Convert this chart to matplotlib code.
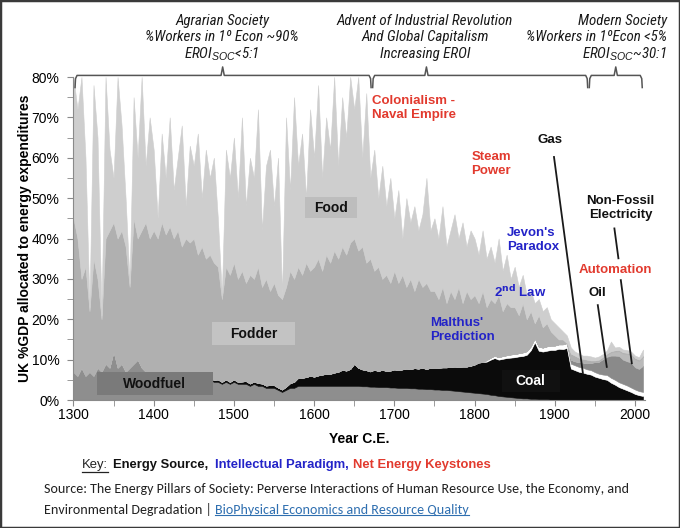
import numpy as np
import matplotlib.pyplot as plt
from matplotlib.patches import Rectangle
from matplotlib.lines import Line2D

plt.rcParams['font.family'] = ['Liberation Sans', 'DejaVu Sans']

NARROW = ['Roboto Condensed', 'Liberation Sans']
SRC_FONT = ['Carlito', 'Lato', 'Liberation Sans']
plt.rcParams['mathtext.fontset'] = 'custom'
plt.rcParams['mathtext.it'] = 'Liberation Sans:italic'
plt.rcParams['mathtext.rm'] = 'Liberation Sans'
RED = '#e23a2e'
BLUE = '#2323c8'

# 1 Data (5-year steps, % of UK GDP)
years = np.arange(1300, 2011, 5)

woodfuel = [7, 6, 8, 6, 7, 6, 8, 7, 9, 8,
            12, 8, 9, 7, 8, 9, 10, 8, 7, 7,
            6, 6.5, 6, 6, 5.5, 5.5, 5.5, 5, 5, 5,
            5, 5, 6, 6.5, 5, 4.5, 4.5, 4, 4.5, 4,
            4.5, 4, 4, 4, 3.5, 4, 3.5, 3.5, 3, 3,
            3, 2.5, 2, 2.5, 3, 3, 3.5, 3.5, 3.5, 3.5,
            3.5, 3.5, 3.5, 3.5, 3.5, 3.5, 3.5, 3.5, 3.5, 3.5,
            3.5, 3.5, 3.4, 3.4, 3.3, 3.3, 3.2, 3.2, 3.2, 3.1,
            3.1, 3.0, 3.0, 3.0, 2.9, 2.9, 2.8, 2.8, 2.7, 2.7,
            2.6, 2.6, 2.5, 2.5, 2.4, 2.3, 2.2, 2.1, 2.0, 1.9,
            1.8, 1.7, 1.6, 1.5, 1.3, 1.2, 1.0, 0.9, 0.8, 0.7,
            0.6, 0.5, 0.4, 0.4, 0.3, 0.3, 0.2, 0.2, 0.2, 0.1,
            0.1, 0.1, 0.1, 0.1, 0, 0, 0, 0, 0, 0,
            0, 0, 0, 0, 0, 0, 0, 0, 0, 0,
            0, 0, 0]

coal = [0] * 30 + [
        0, 0, 0.3, 0.5, 0.5, 0.5, 0.6, 0.5, 0.6, 0.5,
        0.6, 0.5, 0.6, 0.7, 0.6, 0.6, 0.7, 0.6, 0.6, 0.7,
        0.7, 0.6, 0.6, 0.8, 1.2, 1.5, 2.0, 2.0, 2.2, 2.5,
        2.3, 2.6, 2.8, 3.0, 3.0, 3.3, 3.5, 4.0, 3.8, 4.2,
        5.5, 4.5, 4.2, 4.0, 3.8, 4.2, 4.0, 4.3, 4.0, 4.2,
        4.5, 4.4, 4.6, 4.8, 4.8, 5.0, 5.0, 5.2, 5.0, 5.3,
        5.3, 5.4, 5.6, 5.6, 5.8, 6.0, 6.0, 6.2, 6.3, 6.6,
        7.0, 7.6, 7.8, 8.0, 8.7, 9.2, 9.0, 9.3, 9.6, 9.8,
        10.0, 10.3, 10.5, 10.8, 12.0, 14.0, 12.0, 11.8, 12.0, 12.3,
        12.3, 12.6, 12.5, 12.8, 7.8, 7.4, 7.0, 6.8, 6.5, 6.3,
        5.8, 5.5, 5.2, 5.0, 4.3, 3.8, 3.2, 2.8, 2.4, 2.0,
        1.5, 1.2, 1.0]

gas = [0] * 100 + [
       0, 0, 0, 0.4, 0.5, 0.6, 0.6, 0.7, 0.7, 0.8,
       0.8, 0.8, 0.9, 0.9, 1.0, 1.0, 1.0, 1.0, 1.1, 1.1,
       1.1, 1.1, 1.2, 1.2, 1.2, 1.2, 1.2, 1.2, 1.1, 1.1,
       1.1, 1.0, 1.1, 1.2, 1.2, 1.2, 1.2, 1.2, 1.2, 1.1,
       1.1, 1.0, 1.0]

oil = [0] * 120 + [
       0, 0, 0, 0, 1.0, 1.0, 1.2, 1.3, 1.5, 1.8,
       2.5, 3.0, 3.8, 4.5, 5.5, 6.0, 6.5, 6.0, 6.0, 6.2,
       5.5, 5.5, 6.5]

electricity = [0] * 130 + [
       0, 0, 0.3, 0.5, 0.8, 1.0, 1.2, 1.5, 1.8, 2.0,
       2.0, 2.0, 2.2]

# upper edges of the fodder and food areas
fodder_top = [45, 40, 30, 33, 22, 35, 30, 20, 40, 42,
              44, 40, 42, 38, 28, 45, 40, 42, 44, 40,
              42, 40, 44, 41, 43, 40, 42, 38, 40, 39,
              40, 36, 38, 35, 36, 34, 33, 25, 33, 31,
              34, 30, 32, 29, 31, 30, 33, 28, 30, 27,
              29, 26, 25, 28, 32, 30, 33, 31, 34, 32,
              33, 35, 32, 36, 34, 37, 35, 38, 36, 39,
              40, 37, 38, 34, 35, 32, 33, 30, 31, 29,
              32, 29, 31, 28, 30, 27, 30, 28, 29, 27,
              27, 25, 28, 24, 27, 25, 28, 24, 27, 25,
              26, 24, 27, 23, 25, 24, 26, 22, 24, 23,
              23, 21, 24, 20, 22, 19, 21, 18, 19, 17,
              16, 15, 15, 14, 11.5, 11, 10.5, 10.2, 10, 9.8,
              9.8, 10, 10.7, 11.5, 12.1, 12.3, 12.4, 11.8, 11.7, 11.5,
              10.4, 10.0, 11.0]

food_top = [80, 72, 80, 60, 23, 78, 65, 21, 80, 62,
            55, 80, 68, 50, 29, 75, 60, 80, 58, 70,
            62, 45, 66, 55, 70, 52, 60, 68, 48, 63,
            58, 66, 50, 62, 55, 60, 45, 26, 62, 55,
            65, 50, 70, 48, 60, 55, 72, 42, 58, 62,
            48, 60, 26, 70, 52, 75, 58, 66, 50, 72,
            60, 78, 55, 70, 62, 80, 58, 75, 65, 80,
            72, 80, 60, 76, 55, 62, 50, 58, 48, 55,
            45, 52, 40, 50, 44, 48, 42, 46, 55, 42,
            45, 40, 48, 38, 42, 46, 40, 44, 38, 42,
            40, 36, 42, 35, 38, 34, 40, 32, 36, 30,
            33, 28, 31, 26, 27, 24, 25, 22, 23, 20,
            19, 18, 17, 16, 13, 12, 11.5, 11, 11, 10.8,
            10.5, 10.8, 11.4, 12.3, 14.5, 13.0, 13.2, 12.5, 12.4, 12.0,
            11.0, 10.6, 12.5]

lower = (np.array(woodfuel) + np.array(coal) + np.array(gas)
         + np.array(oil) + np.array(electricity))
fodder = np.clip(np.minimum(fodder_top, food_top) - lower, 0, None)
food = np.clip(np.array(food_top) - lower - fodder, 0, None)

layer_colors = ['#8e8e8e', '#0b0b0b', '#ffffff', '#8a8a8a', '#bababa',
                '#b0b0b0', '#cecece']

# 2 Figure
fig = plt.figure(figsize=(6.8, 5.28), dpi=100)
ax = fig.add_axes([0.108, 0.2424, 0.840, 0.6117])
renderer = fig.canvas.get_renderer()

polys = ax.stackplot(years, woodfuel, coal, gas, oil, electricity, fodder, food,
                     colors=layer_colors)
for p, c in zip(polys, layer_colors):
    p.set_edgecolor(c)
    p.set_linewidth(0.4)

ax.set_xlim(1300, 2012)
ax.set_ylim(0, 80)
ax.set_yticks(np.arange(0, 81, 10))
ax.set_yticklabels([f'{v}%' for v in range(0, 81, 10)])
ax.set_yticks(np.arange(5, 80, 10), minor=True)
ax.set_xticks(np.arange(1300, 2001, 100))
ax.set_xticks(np.arange(1350, 2001, 100), minor=True)
for s in ['top', 'right']:
    ax.spines[s].set_visible(False)
for s in ['left', 'bottom']:
    ax.spines[s].set_color('#8a8a8a')
ax.tick_params(axis='both', which='both', color='#8a8a8a', length=4, labelsize=10)
ax.tick_params(axis='y', pad=6)
ax.tick_params(axis='x', pad=2)
ax.set_xlabel('Year C.E.', fontsize=10, fontweight='bold', labelpad=7)
ax.set_ylabel('UK %GDP allocated to energy expenditures', fontsize=10,
              fontweight='bold')
ax.yaxis.set_label_coords(-0.073, 0.5)

# label boxes
boxes = [('Woodfuel', 1329, 1474, 1.2, 6.9, '#7a7a7a', '#111111'),
         ('Fodder', 1473, 1576, 13.6, 19.3, '#c3c3c3', '#111111'),
         ('Food', 1589, 1654, 45.0, 50.2, '#bdbdbd', '#111111'),
         ('Coal', 1834, 1906, 2.0, 7.4, '#111111', '#ffffff')]
for name, x0, x1, y0, y1, fc, tc in boxes:
    ax.add_patch(Rectangle((x0, y0), x1 - x0, y1 - y0, fc=fc, ec='none', zorder=3))
    ax.text((x0 + x1) / 2, (y0 + y1) / 2, name, ha='center', va='center',
            fontsize=10, fontweight='bold', color=tc, zorder=4)

# annotations
notes = [('Colonialism -\nNaval Empire', 1672, 75.5, RED),
         ('Steam\nPower', 1796, 61.8, RED),
         ("Jevon's\nParadox", 1840, 42.8, BLUE),
         ('Malthus\'\nPrediction', 1745, 20.6, BLUE)]
for txt, x, y, c in notes:
    ax.text(x, y, txt, color=c, fontsize=9.5, fontweight='bold', ha='left', va='top',
            linespacing=1.25, zorder=5)
ax.text(1824, 26.8, '2$^{\\mathbf{nd}}$ Law', color=BLUE, fontsize=9.5,
        fontweight='bold', va='center', zorder=5)
ax.text(1894, 64.4, 'Gas', color='#111111', fontsize=9.5, fontweight='bold',
        ha='center', va='center', zorder=5)
ax.text(1982, 47.6, 'Non-Fossil\nElectricity', color='#111111', fontsize=9.5,
        fontweight='bold', ha='center', va='center', linespacing=1.25, zorder=5)
ax.text(1975.5, 32.2, 'Automation', color=RED, fontsize=9.5, fontweight='bold',
        ha='center', va='center', zorder=5)
ax.text(1953.5, 26.4, 'Oil', color='#111111', fontsize=9.5, fontweight='bold',
        ha='center', va='center', zorder=5)

leaders = [((1899, 60.2), (1935, 6.7)),
           ((1974.3, 42.5), (1979.3, 35.1)),
           ((1982.3, 29.7), (1996, 9.1)),
           ((1953.6, 23.5), (1964.8, 8.2))]
for (xa, ya), (xb, yb) in leaders:
    ax.plot([xa, xb], [ya, yb], color='#1a1a1a', lw=1.3, zorder=5)

# brackets over the eras
def bracket(x0, xm, x1):
    xs = [x0, x0 + 0.6, x0 + 2.5, xm - 2, xm, xm + 2, x1 - 2.5, x1 - 0.6, x1]
    ys = [77.4, 79.6, 80.4, 80.4, 82.5, 80.4, 80.4, 79.6, 77.4]
    ax.add_line(Line2D(xs, ys, color='#555555', lw=1.1, clip_on=False))

bracket(1302, 1486, 1671)
bracket(1673, 1740, 1941)
bracket(1943, 1976, 2009)

# era captions, sized so "Advent of Industrial Revolution" is ~176 px wide
ital = dict(family=NARROW, style='italic', fontsize=10, color='#1a1a1a', va='center')
probe = fig.text(0, 0, 'Advent of Industrial Revolution', **ital)
ital['fontsize'] = 10 * 176 / probe.get_window_extent(renderer=renderer).width
probe.remove()
captions = [(222, 'center', ['Agrarian Society', '%Workers in 1º Econ ~90%',
                             'EROI$_{SOC}$<5:1']),
            (425, 'center', ['Advent of Industrial Revolution', 'And Global Capitalism',
                             'Increasing EROI']),
            (667, 'right', ['Modern Society', '%Workers in 1ºEcon <5%',
                            'EROI$_{SOC}$~30:1'])]
for cx, ha, lines in captions:
    for ly, line in zip([21, 37, 54], lines):
        fig.text(cx / 680, 1 - ly / 528, line, ha=ha, **ital)

# key line, scaled to end near x = 492 px
parts = [('Key:', '#222222', 'normal', 5),
         ('Energy Source,', '#111111', 'bold', 8),
         ('Intellectual Paradigm,', BLUE, 'bold', 4),
         ('Net Energy Keystones', RED, 'bold', 0)]
key_texts = [fig.text(0, 1 - 465 / 528, txt, color=c, fontweight=w, fontsize=10,
                      va='center', ha='left') for txt, c, w, g in parts]
total = sum(t.get_window_extent(renderer=renderer).width for t in key_texts)
total += sum(g for _, _, _, g in parts)
scale = (492 - 82) / total
x = 82
for t, (txt, c, w, gap) in zip(key_texts, parts):
    t.set_fontsize(10 * scale)
    t.set_x(x / 680)
    bb = t.get_window_extent(renderer=renderer)
    x = bb.x1 + gap * scale
bb = key_texts[0].get_window_extent(renderer=renderer)
fig.add_artist(Line2D([bb.x0 / 680, bb.x1 / 680], [(bb.y0 - 1) / 528] * 2,
                      color='#222222', lw=0.9))

# source, sized so the first line is ~584 px wide
src = dict(family=SRC_FONT, fontsize=10, color='#222222', va='center', ha='left')
line1 = fig.text(44 / 680, 1 - 489 / 528,
                 'Source: The Energy Pillars of Society: Perverse Interactions of Human '
                 'Resource Use, the Economy, and', **src)
src['fontsize'] = 10 * 584 / line1.get_window_extent(renderer=renderer).width
line1.set_fontsize(src['fontsize'])
t = fig.text(44 / 680, 1 - 510 / 528, 'Environmental Degradation | ', **src)
bb = t.get_window_extent(renderer=renderer)
src['color'] = '#2f6fb0'
t2 = fig.text(bb.x1 / 680, 1 - 510 / 528, 'BioPhysical Economics and Resource Quality', **src)
bb2 = t2.get_window_extent(renderer=renderer)
fig.add_artist(Line2D([bb2.x0 / 680, bb2.x1 / 680], [(bb2.y0 + 1) / 528] * 2,
                      color='#2f6fb0', lw=0.8))

fig.add_artist(Rectangle((0, 0), 1, 1, transform=fig.transFigure, fill=False,
                         ec='#3a3a3a', lw=2.5))

fig.savefig('out.png', dpi=100)
